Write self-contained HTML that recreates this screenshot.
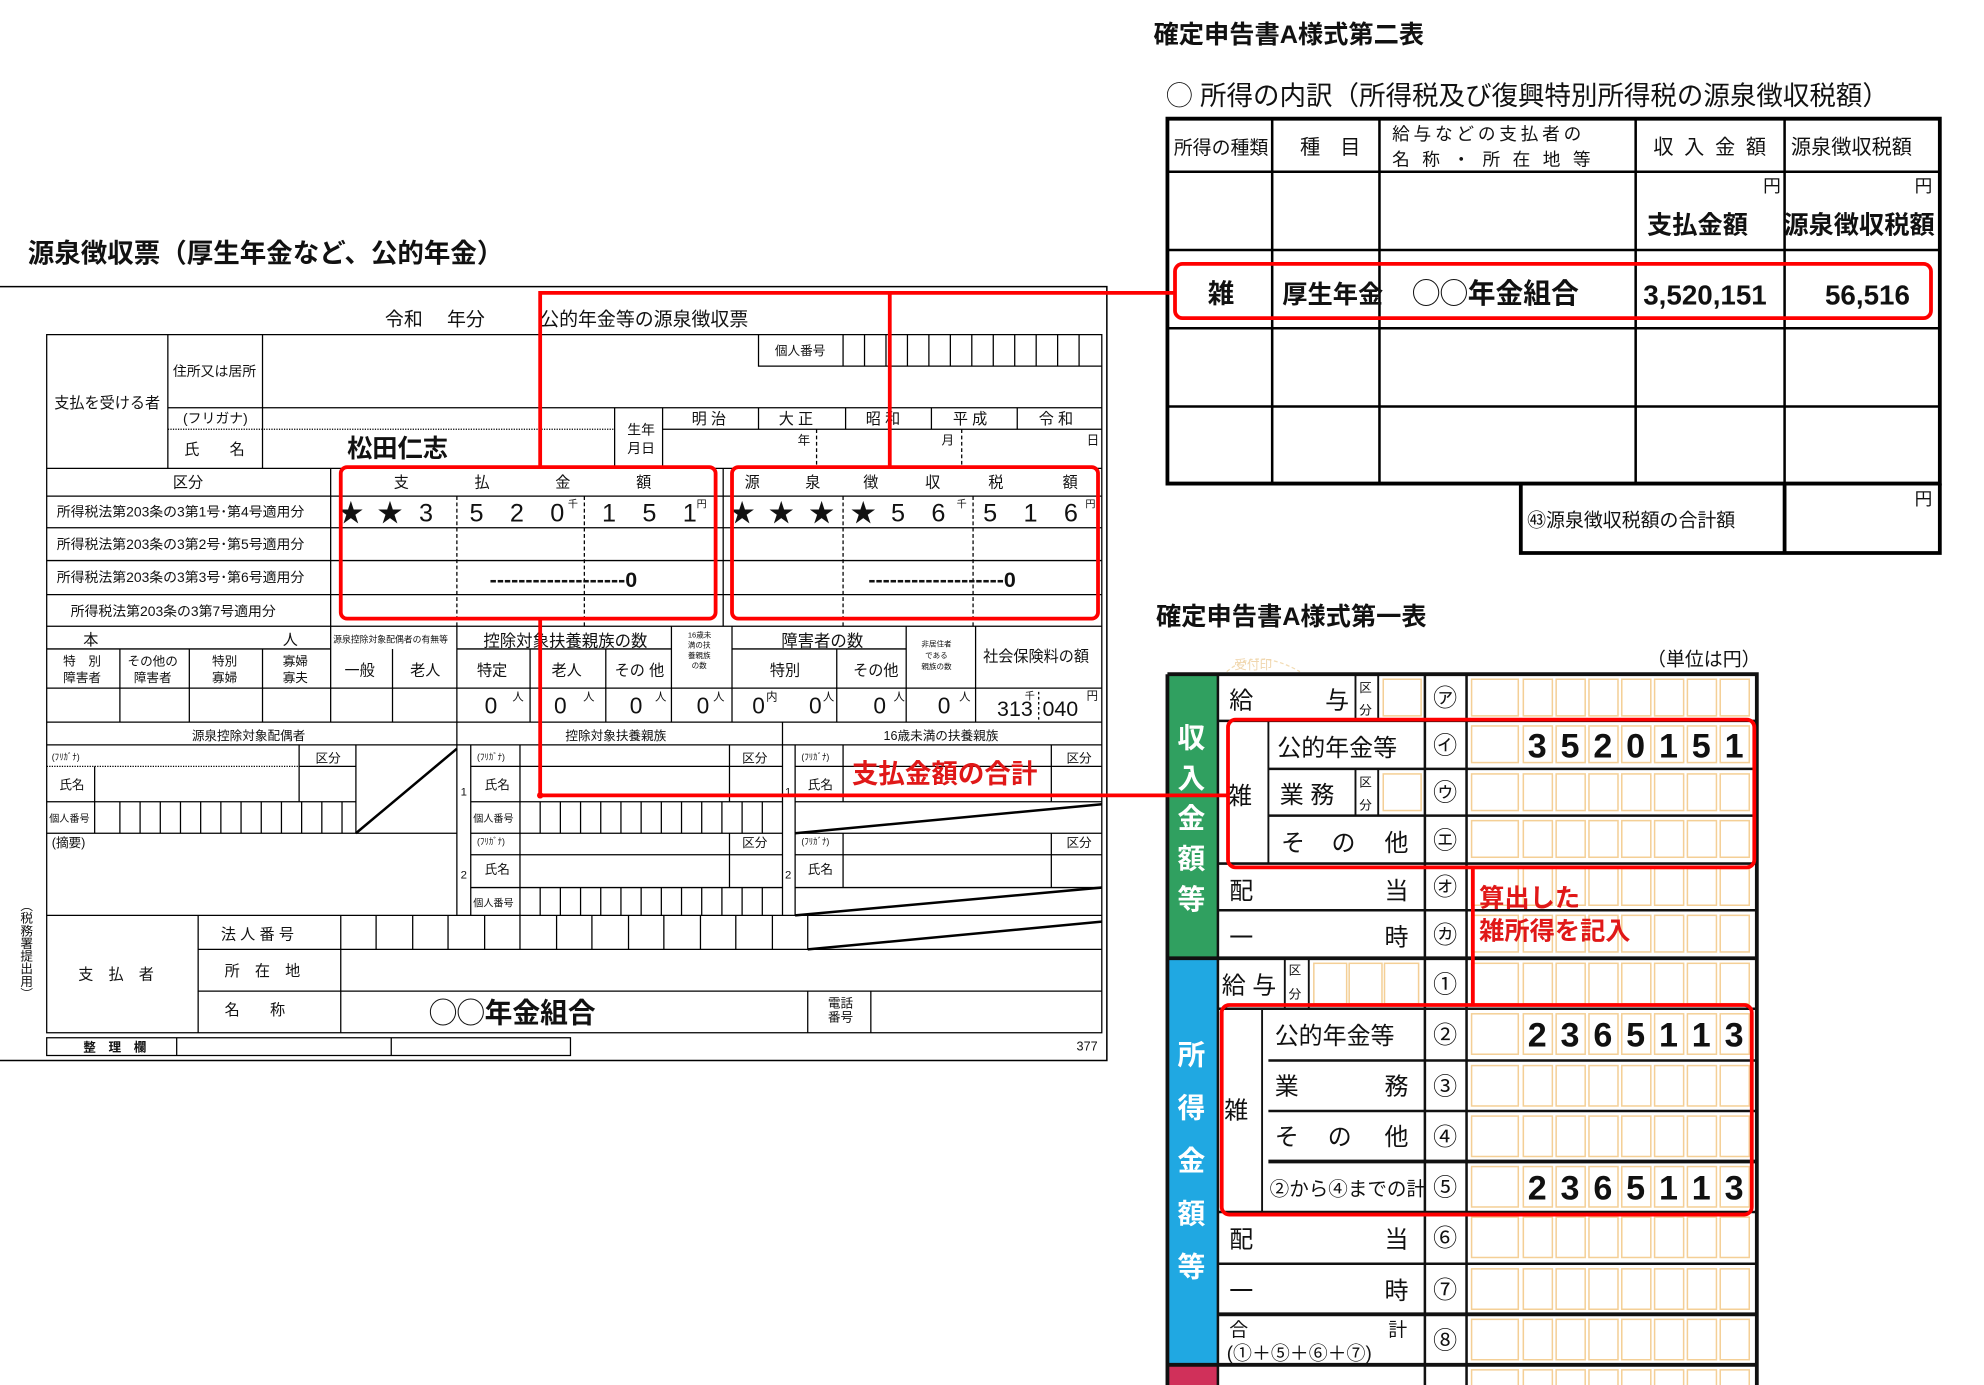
<!DOCTYPE html>
<html><head><meta charset="utf-8"><style>
html,body{margin:0;padding:0;background:#fff;}
svg{display:block;}
text{font-family:"Liberation Sans","Noto Sans CJK JP",sans-serif;fill:#111;}
.b{font-weight:bold;}
.r{fill:#e01818;font-weight:bold;}
.w{fill:#fff;font-weight:bold;}
</style></head><body>
<svg width="1984" height="1385" viewBox="0 0 1572 1097" preserveAspectRatio="none" xmlns="http://www.w3.org/2000/svg" xmlns:xlink="http://www.w3.org/1999/xlink">
<defs>
<g id="rowA" stroke="#f4cf96" fill="none" stroke-width="1.2">
<rect x="1166" y="0" width="37" height="29"/><rect x="1207" y="0" width="23" height="29"/><rect x="1233" y="0" width="23" height="29"/><rect x="1259" y="0" width="23" height="29"/><rect x="1285" y="0" width="23" height="29"/><rect x="1311" y="0" width="23" height="29"/><rect x="1337" y="0" width="23" height="29"/><rect x="1363" y="0" width="23" height="29"/>
</g>
<g id="rowB" stroke="#f4cf96" fill="none" stroke-width="1.2">
<rect x="1166" y="0" width="37" height="32"/><rect x="1207" y="0" width="23" height="32"/><rect x="1233" y="0" width="23" height="32"/><rect x="1259" y="0" width="23" height="32"/><rect x="1285" y="0" width="23" height="32"/><rect x="1311" y="0" width="23" height="32"/><rect x="1337" y="0" width="23" height="32"/><rect x="1363" y="0" width="23" height="32"/>
</g>
</defs>
<rect width="1572" height="1097" fill="#fff"/>

<!-- ========== LEFT FORM ========== -->
<text x="22" y="208" font-size="21" class="b">源泉徴収票（厚生年金など、公的年金）</text>
<path d="M0 227H877V840H0" fill="none" stroke="#000" stroke-width="1.2"/>
<text x="305" y="258" font-size="15">令和　 年分</text>
<text x="428" y="258" font-size="15">公的年金等の源泉徴収票</text>

<g stroke="#000" stroke-width="1" fill="none">
<path d="M37 265H873V818H37Z"/>
<path d="M601 265V290H873M668 265V290M685 265V290M702 265V290M719 265V290M736 265V290M753 265V290M770 265V290M787 265V290M804 265V290M821 265V290M838 265V290M855 265V290"/>
<path d="M133 265V371M208 265V371M133 323H873M487 323V371M525 323V371M525 340H873M601 323V340M670 323V340M738 323V340M806 323V340"/>
<path d="M37 371H873M262 371V572M573 371V496M37 393H873M37 418H873M37 444H873M37 471H873M37 496H873"/>
<path d="M37 514H262M362 514H532M580 514H718M37 545H873M37 572H873"/>
<path d="M95 514V572M150 514V572M208 514V572M311 514V572M362 496V725M420 514V572M480 514V572M532 496V572M580 496V572M663 514V572M718 496V572M773 496V572"/>
<path d="M37 590H873M620 572V725"/>
<path d="M37 635H282M237 590V635M282 590V660M237 607H282M75 607V660M37 660H362"/>
<path d="M95 635V660M111 635V660M127 635V660M143 635V660M159 635V660M175 635V660M191 635V660M207 635V660M223 635V660M239 635V660M255 635V660M271 635V660"/>
<path d="M373 590V725M412 590V725M373 607H620M373 635H620M373 660H620M373 677H620M373 703H620M578 590V635M578 660V703"/>
<path d="M428 635V660M444 635V660M460 635V660M476 635V660M492 635V660M508 635V660M524 635V660M540 635V660M556 635V660M572 635V660M588 635V660M604 635V660"/>
<path d="M428 703V725M444 703V725M460 703V725M476 703V725M492 703V725M508 703V725M524 703V725M540 703V725M556 703V725M572 703V725M588 703V725M604 703V725"/>
<path d="M630 590V725M668 590V635M668 660V703M833 590V635M833 660V703M630 607H873M630 635H873M630 660H873M630 677H873M630 703H873"/>
<path d="M37 725H873M157 725V818M270 725V818M157 752H873M157 785H873M640 785V818M690 785V818"/>
<path d="M298 725V752M327 725V752M355 725V752M384 725V752M412 725V752M441 725V752M469 725V752M498 725V752M526 725V752M555 725V752M583 725V752M612 725V752M640 725V752"/>
<path d="M37 822H452V836H37ZM140 822V836M310 822V836"/>
</g>
<g stroke="#000" fill="none">
<path d="M133 340H487" stroke-dasharray="1 1" stroke-width="1"/>
<path d="M37 607H237" stroke-dasharray="1 1" stroke-width="1"/>
<path d="M647 340V371M762 340V371M362 393V496M463 393V496M668 393V496M771 393V496" stroke-dasharray="3 2" stroke-width="1"/>
<path d="M282 660L362 593M630 660L873 637M630 725L873 703M640 752L873 730" stroke-width="2"/>
</g>

<g font-size="12">
<text x="614" y="281" font-size="10">個人番号</text>
<text x="43" y="323">支払を受ける者</text>
<text x="137" y="298" font-size="11">住所又は居所</text>
<text x="145" y="335" font-size="11">(フリガナ)</text>
<text x="146" y="360">氏　　名</text>
<text x="497" y="344" font-size="11">生年</text>
<text x="497" y="359" font-size="11">月日</text>
<text x="548" y="336">明 治</text><text x="617" y="336">大 正</text><text x="686" y="336">昭 和</text><text x="755" y="336">平 成</text><text x="823" y="336">令 和</text>
<text x="632" y="352" font-size="10">年</text><text x="746" y="352" font-size="10">月</text><text x="861" y="352" font-size="10">日</text>
<text x="137" y="386">区分</text>
<text x="312" y="386">支</text><text x="376" y="386">払</text><text x="440" y="386">金</text><text x="504" y="386">額</text>
<text x="590" y="386">源</text><text x="638" y="386">泉</text><text x="684" y="386">徴</text><text x="733" y="386">収</text><text x="783" y="386">税</text><text x="842" y="386">額</text>
<text x="45" y="409" font-size="11">所得税法第203条の3第1号･第4号適用分</text>
<text x="45" y="435" font-size="11">所得税法第203条の3第2号･第5号適用分</text>
<text x="45" y="461" font-size="11">所得税法第203条の3第3号･第6号適用分</text>
<text x="56" y="488" font-size="11">所得税法第203条の3第7号適用分</text>
<text x="66" y="511">本</text><text x="224" y="511">人</text>
<text x="264" y="509" font-size="7">源泉控除対象配偶者の有無等</text>
<text x="383" y="512" font-size="13">控除対象扶養親族の数</text>
<text x="545" y="505" font-size="6">16歳未</text><text x="545" y="513" font-size="6">満の扶</text><text x="545" y="521" font-size="6">養親族</text><text x="548" y="529" font-size="6">の数</text>
<text x="619" y="512" font-size="13">障害者の数</text>
<text x="730" y="512" font-size="6">非居住者</text><text x="733" y="521" font-size="6">である</text><text x="730" y="530" font-size="6">親族の数</text>
<text x="779" y="524" font-size="12">社会保険料の額</text>
<text x="50" y="527" font-size="10">特　別</text><text x="50" y="540" font-size="10">障害者</text>
<text x="101" y="527" font-size="10">その他の</text><text x="106" y="540" font-size="10">障害者</text>
<text x="168" y="527" font-size="10">特別</text><text x="168" y="540" font-size="10">寡婦</text>
<text x="224" y="527" font-size="10">寡婦</text><text x="224" y="540" font-size="10">寡夫</text>
<text x="273" y="535">一般</text><text x="325" y="535">老人</text><text x="378" y="535">特定</text><text x="437" y="535">老人</text><text x="487" y="535">その 他</text>
<text x="610" y="535">特別</text><text x="676" y="535">その他</text>
<text x="152" y="586" font-size="10">源泉控除対象配偶者</text>
<text x="448" y="586" font-size="10">控除対象扶養親族</text>
<text x="700" y="586" font-size="10">16歳未満の扶養親族</text>
<text x="41" y="602" font-size="7">(ﾌﾘｶﾞﾅ)</text><text x="250" y="604" font-size="10">区分</text><text x="47" y="625" font-size="10">氏名</text><text x="39" y="651" font-size="8">個人番号</text>
<text x="41" y="671" font-size="10">(摘要)</text>
<text x="365" y="630" font-size="9">1</text><text x="378" y="602" font-size="7">(ﾌﾘｶﾞﾅ)</text><text x="588" y="604" font-size="10">区分</text><text x="384" y="625" font-size="10">氏名</text><text x="375" y="651" font-size="8">個人番号</text>
<text x="365" y="696" font-size="9">2</text><text x="378" y="669" font-size="7">(ﾌﾘｶﾞﾅ)</text><text x="588" y="671" font-size="10">区分</text><text x="384" y="692" font-size="10">氏名</text><text x="375" y="718" font-size="8">個人番号</text>
<text x="622" y="630" font-size="9">1</text><text x="635" y="602" font-size="7">(ﾌﾘｶﾞﾅ)</text><text x="845" y="604" font-size="10">区分</text><text x="640" y="625" font-size="10">氏名</text>
<text x="622" y="696" font-size="9">2</text><text x="635" y="669" font-size="7">(ﾌﾘｶﾞﾅ)</text><text x="845" y="671" font-size="10">区分</text><text x="640" y="692" font-size="10">氏名</text>
<text x="62" y="776">支　払　者</text>
<text x="175" y="744">法 人 番 号</text>
<text x="178" y="773">所　在　地</text>
<text x="178" y="804">名　　称</text>
<text x="656" y="798" font-size="10">電話</text><text x="656" y="809" font-size="10">番号</text>
<text x="66" y="833" font-size="10" class="b">整　理　欄</text>
<text x="853" y="832" font-size="10">377</text>
</g>
<text x="20" y="712" font-size="10" style="writing-mode:tb">（税務署提出用）</text>
<text x="275" y="362" font-size="20" class="b">松田仁志</text>
<text x="340" y="810" font-size="22" class="b">◯◯年金組合</text>

<g font-size="20">
<text x="268" y="413">★</text><text x="299" y="413">★</text><text x="332" y="413">3</text>
<text x="372" y="413">5</text><text x="404" y="413">2</text><text x="436" y="413">0</text><text x="450" y="402" font-size="8">千</text>
<text x="477" y="413">1</text><text x="509" y="413">5</text><text x="541" y="413">1</text><text x="552" y="402" font-size="8">円</text>
<text x="578" y="413">★</text><text x="609" y="413">★</text><text x="641" y="413">★</text><text x="674" y="413">★</text>
<text x="706" y="413">5</text><text x="738" y="413">6</text><text x="758" y="402" font-size="8">千</text>
<text x="779" y="413">5</text><text x="811" y="413">1</text><text x="843" y="413">6</text><text x="860" y="402" font-size="8">円</text>
<text x="388" y="465" font-size="17" class="b">-------------------0</text>
<text x="688" y="465" font-size="17" class="b">-------------------0</text>
</g>
<g font-size="18">
<text x="384" y="565">0</text><text x="406" y="555" font-size="9">人</text>
<text x="439" y="565">0</text><text x="462" y="555" font-size="9">人</text>
<text x="499" y="565">0</text><text x="519" y="555" font-size="9">人</text>
<text x="552" y="565">0</text><text x="565" y="555" font-size="9">人</text>
<text x="596" y="565">0</text><text x="607" y="555" font-size="9">内</text>
<text x="641" y="565">0</text><text x="652" y="555" font-size="9">人</text>
<text x="692" y="565">0</text><text x="708" y="555" font-size="9">人</text>
<text x="743" y="565">0</text><text x="760" y="555" font-size="9">人</text>
<text x="790" y="567" font-size="17">313</text><text x="812" y="554" font-size="8">千</text><text x="826" y="567" font-size="17">040</text><text x="861" y="554" font-size="9">円</text>
</g>
<path d="M823 548V572" stroke="#000" stroke-dasharray="2 2"/>

<!-- ========== RIGHT TOP (第二表) ========== -->
<text x="914" y="34" font-size="20" class="b">確定申告書A様式第二表</text>
<text x="924" y="83" font-size="21">◯ 所得の内訳（所得税及び復興特別所得税の源泉徴収税額）</text>
<g stroke="#000" fill="none">
<path d="M925 94H1537V383H925Z" stroke-width="3"/>
<path d="M1008 94V383M1093 94V383M1296 94V383M1414 94V383M925 136H1537M925 198H1537M925 260H1537M925 322H1537" stroke-width="2"/>
<path d="M1205 383V438H1537V383M1414 383V438" stroke-width="3"/>
</g>
<text x="930" y="122" font-size="15">所得の種類</text>
<text x="1030" y="122" font-size="16">種　目</text>
<text x="1103" y="111" font-size="14" letter-spacing="3">給与などの支払者の</text>
<text x="1103" y="131" font-size="14" letter-spacing="3">名 称 ・ 所 在 地 等</text>
<text x="1310" y="122" font-size="16" letter-spacing="2">収 入 金 額</text>
<text x="1419" y="122" font-size="16">源泉徴収税額</text>
<text x="1397" y="152" font-size="14">円</text><text x="1517" y="152" font-size="14">円</text>
<text x="1305" y="185" font-size="20" class="b">支払金額</text>
<text x="1413" y="185" font-size="20" class="b">源泉徴収税額</text>
<text x="957" y="240" font-size="21" class="b">雑</text>
<text x="1016" y="240" font-size="20" class="b">厚生年金</text>
<text x="1119" y="240" font-size="22" class="b">◯◯年金組合</text>
<text x="1302" y="241" font-size="22" class="b">3,520,151</text>
<text x="1446" y="241" font-size="22" class="b">56,516</text>
<text x="1210" y="417" font-size="15">㊸源泉徴収税額の合計額</text>
<text x="1517" y="400" font-size="14">円</text>

<!-- ========== RIGHT BOTTOM (第一表) ========== -->
<text x="916" y="495" font-size="20" class="b">確定申告書A様式第一表</text>
<text x="1305" y="527" font-size="15">（単位は円）</text>
<path d="M972 532Q995 512 1030 532" stroke="#f2dcb4" fill="none" stroke-dasharray="3 2"/>
<text x="978" y="530" font-size="10" style="fill:#f0d6ae">受付印</text>

<rect x="925" y="534" width="40" height="225" fill="#30a060"/>
<rect x="925" y="759" width="40" height="322" fill="#20a8e2"/>
<rect x="925" y="1081" width="40" height="16" fill="#d0305a"/>
<g font-size="22">
<text x="933" y="592" class="w">収</text><text x="933" y="624" class="w">入</text><text x="933" y="656" class="w">金</text><text x="933" y="688" class="w">額</text><text x="933" y="720" class="w">等</text>
<text x="933" y="843" class="w">所</text><text x="933" y="885" class="w">得</text><text x="933" y="927" class="w">金</text><text x="933" y="969" class="w">額</text><text x="933" y="1011" class="w">等</text>
</g>

<!-- orange cells -->
<use xlink:href="#rowA" href="#rowA" y="538"/>
<use xlink:href="#rowA" href="#rowA" y="575"/>
<use xlink:href="#rowA" href="#rowA" y="613"/>
<use xlink:href="#rowA" href="#rowA" y="650"/>
<use xlink:href="#rowA" href="#rowA" y="688"/>
<use xlink:href="#rowA" href="#rowA" y="725"/>
<use xlink:href="#rowB" href="#rowB" y="763"/>
<use xlink:href="#rowB" href="#rowB" y="803"/>
<use xlink:href="#rowB" href="#rowB" y="844"/>
<use xlink:href="#rowB" href="#rowB" y="884"/>
<use xlink:href="#rowB" href="#rowB" y="924"/>
<use xlink:href="#rowB" href="#rowB" y="964"/>
<use xlink:href="#rowB" href="#rowB" y="1005"/>
<use xlink:href="#rowB" href="#rowB" y="1045"/>
<use xlink:href="#rowB" href="#rowB" y="1085"/>
<g stroke="#f4cf96" fill="none" stroke-width="1.2">
<rect x="1096" y="538" width="30" height="29"/><rect x="1096" y="613" width="30" height="29"/>
<rect x="1041" y="763" width="26" height="32"/><rect x="1069" y="763" width="26" height="32"/><rect x="1097" y="763" width="27" height="32"/>
</g>

<g stroke="#111" fill="none">
<path d="M925 534H1392V1097M925 534V1097" stroke-width="3"/>
<path d="M965 534V1097M1129 534V1097M1162 534V1097" stroke-width="2"/>
<path d="M965 571H1392M1005 609H1392M1005 646H1392M965 684H1392M965 721H1392M1005 840H1392M1005 880H1392M965 960H1392M965 1001H1392" stroke-width="2"/>
<path d="M925 759H1392M1005 920H1392M965 1041H1392M925 1081H1392" stroke-width="3"/>
<path d="M965 799H1392" stroke-width="2"/>
<path d="M1005 571V684M1074 534V571M1092 534V571M1074 609V646M1092 609V646M1000 799V960M1018 759V799M1037 759V799" stroke-width="1.5"/>
</g>
<g font-size="19">
<text x="974" y="561">給</text><text x="1050" y="561">与</text>
<text x="1077" y="548" font-size="10">区</text><text x="1077" y="566" font-size="10">分</text>
<text x="973" y="637">雑</text>
<text x="1012" y="599">公的年金等</text>
<text x="1014" y="636">業 務</text><text x="1077" y="623" font-size="10">区</text><text x="1077" y="641" font-size="10">分</text>
<text x="1015" y="674">そ</text><text x="1055" y="674">の</text><text x="1097" y="674">他</text>
<text x="974" y="712">配</text><text x="1097" y="712">当</text>
<text x="974" y="749">一</text><text x="1097" y="749">時</text>
<text x="968" y="787">給 与</text><text x="1021" y="772" font-size="10">区</text><text x="1021" y="791" font-size="10">分</text>
<text x="970" y="886">雑</text>
<text x="1010" y="827">公的年金等</text>
<text x="1010" y="867">業</text><text x="1097" y="867">務</text>
<text x="1010" y="907">そ</text><text x="1052" y="907">の</text><text x="1097" y="907">他</text>
<text x="1006" y="947" font-size="15.5">②から④までの計</text>
<text x="974" y="988">配</text><text x="1097" y="988">当</text>
<text x="974" y="1029">一</text><text x="1097" y="1029">時</text>
<text x="974" y="1058" font-size="15">合</text><text x="1100" y="1058" font-size="15">計</text>
<text x="972" y="1077" font-size="15">(①＋⑤＋⑥＋⑦)</text>
</g>
<g font-size="19" text-anchor="middle">
<text x="1145" y="559">㋐</text><text x="1145" y="597">㋑</text><text x="1145" y="634">㋒</text><text x="1145" y="672">㋓</text><text x="1145" y="709">㋔</text><text x="1145" y="747">㋕</text>
<text x="1145" y="786">①</text><text x="1145" y="826">②</text><text x="1145" y="867">③</text><text x="1145" y="907">④</text><text x="1145" y="947">⑤</text><text x="1145" y="987">⑥</text><text x="1145" y="1028">⑦</text><text x="1145" y="1068">⑧</text>
</g>
<g font-size="27" class="b" text-anchor="middle">
<text x="1218" y="600">3</text><text x="1244" y="600">5</text><text x="1270" y="600">2</text><text x="1296" y="600">0</text><text x="1322" y="600">1</text><text x="1348" y="600">5</text><text x="1374" y="600">1</text>
<text x="1218" y="829">2</text><text x="1244" y="829">3</text><text x="1270" y="829">6</text><text x="1296" y="829">5</text><text x="1322" y="829">1</text><text x="1348" y="829">1</text><text x="1374" y="829">3</text>
<text x="1218" y="950">2</text><text x="1244" y="950">3</text><text x="1270" y="950">6</text><text x="1296" y="950">5</text><text x="1322" y="950">1</text><text x="1348" y="950">1</text><text x="1374" y="950">3</text>
</g>

<!-- ========== RED OVERLAYS ========== -->
<g stroke="#ff0000" stroke-width="3" fill="none">
<rect x="270" y="370" width="297" height="120" rx="5"/>
<rect x="580" y="370" width="290" height="120" rx="5"/>
<rect x="931" y="209" width="599" height="43" rx="6"/>
<rect x="973" y="570" width="417" height="117" rx="6"/>
<rect x="968" y="796" width="420" height="166" rx="6"/>
<path d="M428 370V232H931M705 232V370M428 490V630H973M1167 687V796"/>
</g>
<circle cx="428" cy="630" r="2.5" fill="#ff0000"/>
<text x="675" y="620" font-size="21" class="r">支払金額の合計</text>
<text x="1172" y="718" font-size="20" class="r">算出した</text>
<text x="1172" y="744" font-size="20" class="r">雑所得を記入</text>
</svg>
</body></html>
